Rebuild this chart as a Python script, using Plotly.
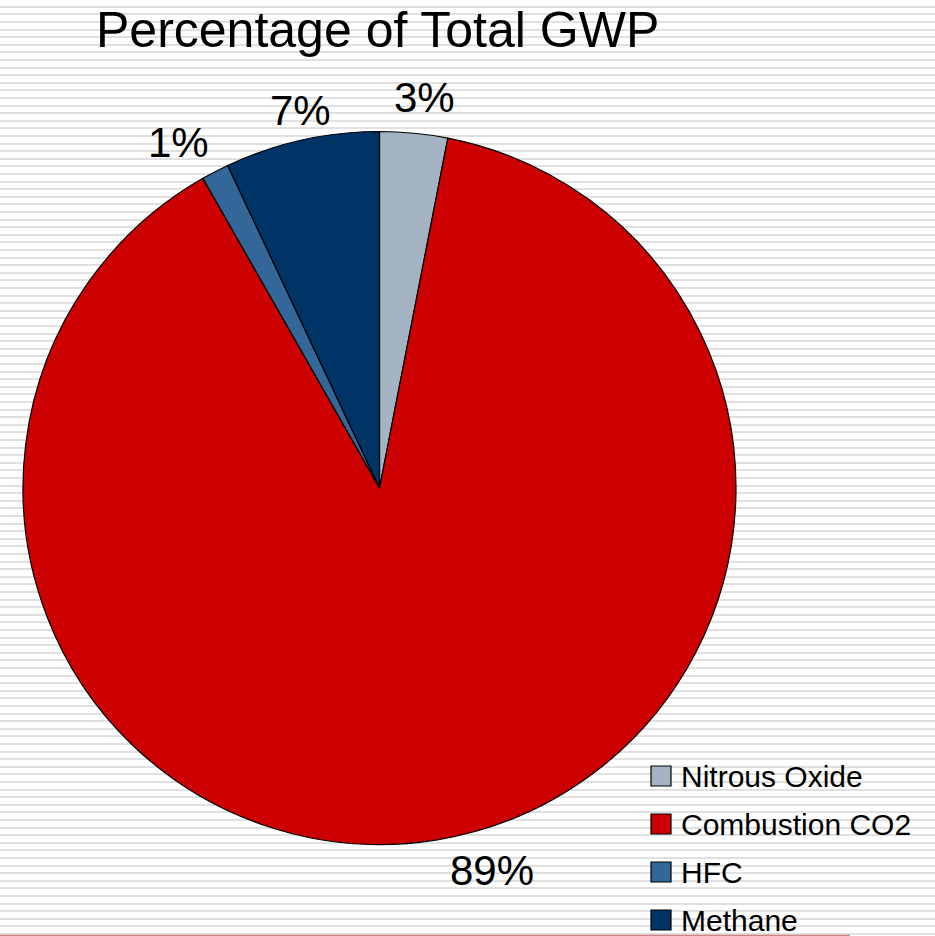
import math
import plotly.graph_objects as go

# Share of total global warming potential by gas
gases = ["Nitrous Oxide", "Combustion CO2", "HFC", "Methane"]
shares = [3.07, 88.68, 1.25, 7.0]
colors = ["#A3B3C4", "#CC0000", "#336699", "#003366"]

W, H = 935, 936
FONT = "Liberation Sans, Arial, sans-serif"

# Pie geometry in pixels
CX, CY, R = 379.5, 488.0, 356.5
LABEL_SIZE = 42
# small hand placement tweaks for the percentage labels (px: right, down)
label_nudge = [(6, -3), (46, -2), (-17, 0), (8, 3)]


def px(x, y):
    return x / W, 1 - y / H


fig = go.Figure()

# Invisible cartesian trace so the striped background grid is drawn
fig.add_trace(go.Scatter(x=[0], y=[0], mode="none", showlegend=False,
                         hoverinfo="skip"))

x0, y0 = px(CX - R, CY + R)
x1, y1 = px(CX + R, CY - R)
fig.add_trace(go.Pie(
    labels=gases,
    values=shares,
    sort=False,
    direction="clockwise",
    rotation=0,
    marker=dict(colors=colors, line=dict(color="#000000", width=1.2)),
    textinfo="none",
    showlegend=False,
    domain=dict(x=[x0, x1], y=[y0, y1]),
    hoverinfo="label+percent",
))

shapes = []
annotations = []

# Percentage labels placed just outside each slice's mid-angle
total = sum(shares)
cum = 0.0
for v, (nx, ny) in zip(shares, label_nudge):
    mid = (cum + v / 2) / total * 2 * math.pi
    cum += v
    ux, uy = math.sin(mid), math.cos(mid)
    text = f"{round(v / total * 100)}%"
    half_w = (0.556 * (len(text) - 1) + 0.889) * LABEL_SIZE / 2
    half_h = 20
    lx = CX + (R + 13) * ux + half_w * ux + nx
    ly = CY - (R + 13) * uy - half_h * uy + ny
    ax, ay = px(lx, ly)
    annotations.append(dict(x=ax, y=ay, xref="paper", yref="paper",
                            text=text, showarrow=False,
                            xanchor="center", yanchor="middle",
                            font=dict(family=FONT, size=LABEL_SIZE,
                                      color="#000000")))

# Custom legend: square swatches with black outline, large labels
for i, (name, col) in enumerate(zip(gases, colors)):
    yc = 776 + i * 48
    sx0, sy0 = px(651, yc + 10)
    sx1, sy1 = px(671, yc - 10)
    shapes.append(dict(type="rect", xref="paper", yref="paper",
                       x0=sx0, x1=sx1, y0=sy0, y1=sy1,
                       fillcolor=col, line=dict(color="#000000", width=1.2),
                       layer="above"))
    tx, ty = px(679, yc)
    annotations.append(dict(x=tx, y=ty, xref="paper", yref="paper",
                            text=name, showarrow=False,
                            xanchor="left", yanchor="middle",
                            font=dict(family=FONT, size=30, color="#000000")))

# Thin rule along the bottom edge
shapes.append(dict(type="line", xref="paper", yref="paper",
                   x0=0, x1=850 / W, y0=0.6 / H, y1=0.6 / H,
                   line=dict(color="#D08080", width=1.5), layer="above"))

tx, ty = px(377.5, 30)
annotations.append(dict(x=tx, y=ty, xref="paper", yref="paper",
                        text="Percentage of Total GWP", showarrow=False,
                        xanchor="center", yanchor="middle",
                        font=dict(family=FONT, size=50, color="#000000")))

fig.update_layout(
    width=W, height=H,
    margin=dict(l=0, r=0, t=0, b=0),
    paper_bgcolor="#FFFFFF",
    plot_bgcolor="#FFFFFF",
    shapes=shapes,
    annotations=annotations,
    showlegend=False,
    xaxis=dict(visible=False, range=[0, 1], domain=[0, 1], fixedrange=True),
    yaxis=dict(range=[H, 0], domain=[0, 1], tick0=6.7, dtick=7.6,
               showgrid=True, gridcolor="#E0E0E0", gridwidth=2,
               showticklabels=False, zeroline=False, showline=False,
               ticks="", fixedrange=True),
)

fig.write_html("out.html")
